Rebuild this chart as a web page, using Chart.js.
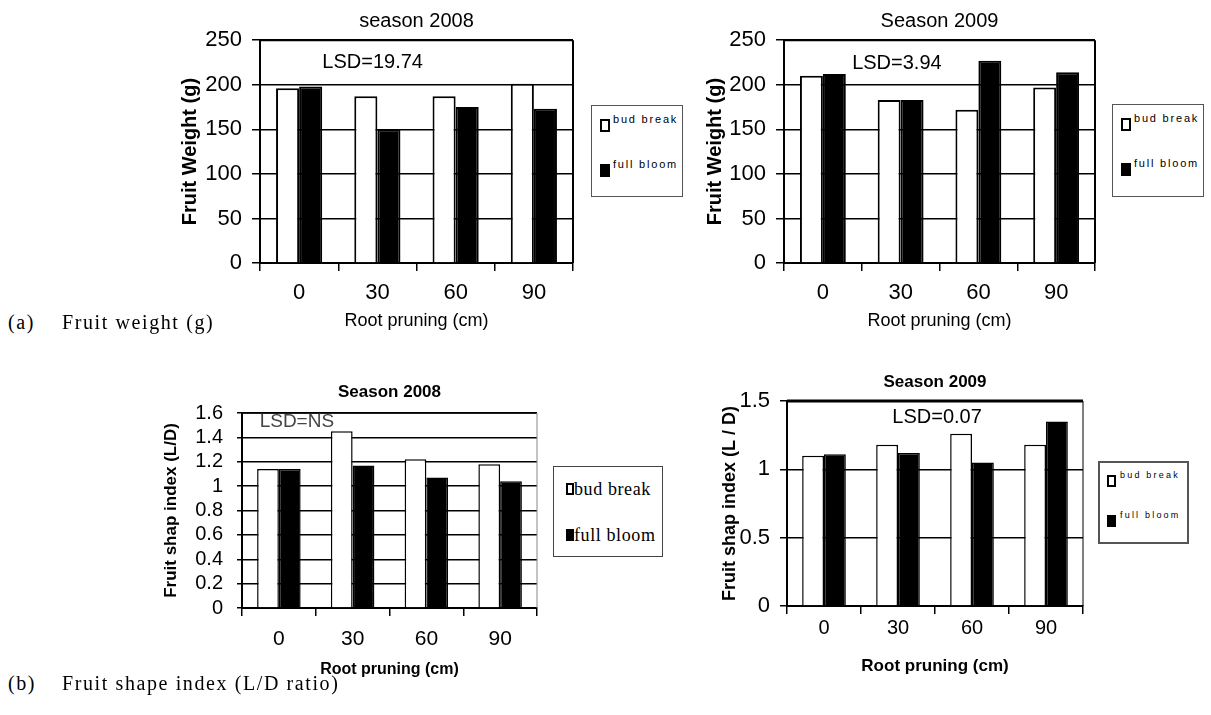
<!DOCTYPE html>
<html>
<head>
<meta charset="utf-8">
<script src="https://cdn.jsdelivr.net/npm/chart.js@4.4.1/dist/chart.umd.min.js"></script>
<style>
  body { margin: 0; background: #fff; width: 1211px; height: 715px; overflow: hidden; position: relative; }
  canvas, .legend, .caption { position: absolute; }
  .legend { box-sizing: border-box; background: #fff; }
  .legend .mark { position: absolute; box-sizing: border-box; }
  .legend .txt { position: absolute; white-space: nowrap; color: #000; }
  .caption { font-family: 'Liberation Serif', 'Times New Roman', serif; font-size: 20px; line-height: 20px; letter-spacing: 1.6px; white-space: nowrap; color: #000; }
</style>
</head>
<body>
<canvas id="w2008" width="404" height="336" style="left:174px;top:0px"></canvas>
<canvas id="w2009" width="401" height="336" style="left:699px;top:0px"></canvas>
<canvas id="s2008" width="385" height="311" style="left:157px;top:372px"></canvas>
<canvas id="s2009" width="373" height="321" style="left:715px;top:360px"></canvas>

<div class="caption" style="left:8px;top:312px">(a)</div>
<div class="caption" style="left:62px;top:312px">Fruit weight (g)</div>
<div class="caption" style="left:8px;top:673px">(b)</div>
<div class="caption" style="left:62px;top:673px">Fruit shape index (L/D ratio)</div>

<script>
'use strict';

// values
const rootPruning = ['0', '30', '60', '90'];
const seriesNames = ['bud break', 'full bloom'];

const weight2008Bud  = [196, 187, 187, 201];
const weight2008Full = [198, 150, 175, 173];
const weight2009Bud  = [210, 183, 172, 197];
const weight2009Full = [212, 183, 227, 214];

const shape2008Bud  = [1.14, 1.45, 1.22, 1.18];
const shape2008Full = [1.14, 1.17, 1.07, 1.04];
const shape2009Bud  = [1.10, 1.18, 1.26, 1.18];
const shape2009Full = [1.11, 1.12, 1.05, 1.35];

const weightTicks = [0, 50, 100, 150, 200, 250];
const shape2008Ticks = [0, 0.2, 0.4, 0.6, 0.8, 1, 1.2, 1.4, 1.6];
const shape2009Ticks = [0, 0.5, 1, 1.5];

const SANS = "'Liberation Sans', Arial, sans-serif";

Chart.defaults.color = '#000';
Chart.defaults.font.family = SANS;

// top + right edge of the plot box
const plotFrame = {
  id: 'plotFrame',
  afterDatasetsDraw(chart, args, opts) {
    const ctx = chart.ctx, a = chart.chartArea;
    ctx.save();
    ctx.strokeStyle = opts.topColor;
    ctx.lineWidth = opts.topWidth;
    ctx.beginPath(); ctx.moveTo(a.left, a.top); ctx.lineTo(a.right, a.top); ctx.stroke();
    ctx.strokeStyle = opts.rightColor;
    ctx.lineWidth = opts.rightWidth;
    ctx.beginPath(); ctx.moveTo(a.right, a.top); ctx.lineTo(a.right, a.bottom); ctx.stroke();
    ctx.restore();
  }
};

// LSD note inside the plot
const lsdNote = {
  id: 'lsdNote',
  afterDatasetsDraw(chart, args, opts) {
    const ctx = chart.ctx, a = chart.chartArea;
    const x = a.left + opts.xFrac * (a.right - a.left);
    const y = chart.scales.y.getPixelForValue(opts.yValue);
    ctx.save();
    ctx.font = opts.font;
    ctx.fillStyle = opts.color;
    ctx.textAlign = 'center';
    ctx.textBaseline = 'middle';
    ctx.fillText(opts.text, x, y);
    ctx.restore();
  }
};

function barChart(id, c) {
  return new Chart(document.getElementById(id), {
    type: 'bar',
    data: {
      labels: rootPruning,
      datasets: [{
        label: seriesNames[0],
        data: c.bud,
        backgroundColor: '#fff',
        borderColor: '#000',
        borderWidth: c.barBorder
      }, {
        label: seriesNames[1],
        data: c.full,
        backgroundColor: '#000',
        borderColor: '#000',
        borderWidth: c.barBorder
      }]
    },
    options: {
      responsive: false,
      animation: false,
      devicePixelRatio: 1,
      layout: { padding: { top: c.padTop, right: 5, bottom: 0, left: 0 } },
      datasets: { bar: { categoryPercentage: 0.59, barPercentage: 1 } },
      plugins: {
        legend: { display: false },
        tooltip: { enabled: false },
        title: {
          display: true,
          text: c.title,
          fullSize: false,
          font: c.titleFont,
          padding: { top: 0, bottom: c.titleGap }
        },
        plotFrame: c.frame,
        lsdNote: c.lsd
      },
      scales: {
        x: {
          grid: { display: true, drawOnChartArea: false, drawTicks: true, tickLength: 8, color: '#000', lineWidth: 1.5 },
          border: { display: true, color: '#000', width: 2 },
          ticks: { font: c.xTickFont, padding: c.xTickPad, maxRotation: 0 },
          title: { display: true, text: c.xTitle, font: c.xTitleFont, padding: { top: 4, bottom: 4 } },
          afterFit: s => { s.height = c.xHeight; }
        },
        y: {
          min: c.ticks[0],
          max: c.ticks[c.ticks.length - 1],
          grid: { color: '#000', lineWidth: c.gridWidth, tickLength: c.yTickLen },
          border: { display: true, color: '#000', width: 2 },
          ticks: { font: c.yTickFont, padding: c.yTickPad, autoSkip: false, callback: v => String(+v.toFixed(2)) },
          afterBuildTicks: s => { s.ticks = c.ticks.map(v => ({ value: v })); },
          title: { display: true, text: c.yTitle, font: c.yTitleFont, padding: { top: 4, bottom: 4 } },
          afterFit: s => { s.width = c.yWidth; }
        }
      }
    },
    plugins: [plotFrame, lsdNote]
  });
}

// legend box next to each chart, built from the chart's own datasets
function addLegend(chart, L) {
  const box = document.createElement('div');
  box.className = 'legend';
  Object.assign(box.style, {
    left: L.left + 'px', top: L.top + 'px', width: L.width + 'px', height: L.height + 'px',
    border: L.border
  });
  chart.data.datasets.forEach((ds, i) => {
    const m = document.createElement('div');
    m.className = 'mark';
    Object.assign(m.style, {
      left: L.markX + 'px', top: L.rows[i] + 'px', width: L.markW + 'px', height: L.markH + 'px',
      background: ds.backgroundColor, border: '2px solid ' + ds.borderColor
    });
    const t = document.createElement('div');
    t.className = 'txt';
    t.textContent = ds.label;
    Object.assign(t.style, {
      left: L.textX + 'px', top: (L.rows[i] + L.textDy) + 'px',
      font: L.font, lineHeight: L.lineH + 'px', letterSpacing: L.spacing + 'px'
    });
    box.appendChild(m);
    box.appendChild(t);
  });
  document.body.appendChild(box);
}

const topCharts = {
  padTop: 9.6, titleGap: 6.6,
  titleFont: { family: SANS, size: 20, weight: 'normal' },
  barBorder: 2, gridWidth: 1.5, ticks: weightTicks,
  xTickFont: { family: SANS, size: 22 }, xTickPad: 9,
  xTitle: 'Root pruning (cm)', xTitleFont: { family: SANS, size: 18, weight: 'normal' }, xHeight: 73,
  yTickFont: { family: SANS, size: 22 }, yTickPad: 10, yTickLen: 8,
  yTitle: 'Fruit Weight (g)', yTitleFont: { family: SANS, size: 20, weight: 'bold' },
  frame: { topColor: '#000', topWidth: 2, rightColor: '#000', rightWidth: 2 }
};

const w2008 = barChart('w2008', Object.assign({}, topCharts, {
  title: 'season 2008', bud: weight2008Bud, full: weight2008Full, yWidth: 86,
  lsd: { text: 'LSD=19.74', xFrac: 0.36, yValue: 225, font: '20px ' + SANS, color: '#000' }
}));

const w2009 = barChart('w2009', Object.assign({}, topCharts, {
  title: 'Season 2009', bud: weight2009Bud, full: weight2009Full, yWidth: 85,
  lsd: { text: 'LSD=3.94', xFrac: 0.363, yValue: 224, font: '20px ' + SANS, color: '#000' }
}));

const s2008 = barChart('s2008', {
  title: 'Season 2008', padTop: 9.8, titleGap: 10.8,
  titleFont: { family: SANS, size: 17, weight: 'bold' },
  bud: shape2008Bud, full: shape2008Full,
  barBorder: 1.5, gridWidth: 1.5, ticks: shape2008Ticks,
  xTickFont: { family: SANS, size: 21 }, xTickPad: 11,
  xTitle: 'Root pruning (cm)', xTitleFont: { family: SANS, size: 16, weight: 'bold' }, xHeight: 75,
  yTickFont: { family: SANS, size: 20 }, yTickPad: 14, yTickLen: 5,
  yTitle: 'Fruit shap index (L/D)', yTitleFont: { family: SANS, size: 17, weight: 'bold' }, yWidth: 85,
  frame: { topColor: '#000', topWidth: 1.5, rightColor: '#888', rightWidth: 1 },
  lsd: { text: 'LSD=NS', xFrac: 0.186, yValue: 1.526, font: '19px ' + SANS, color: '#444' }
});

const s2009 = barChart('s2009', {
  title: 'Season 2009', padTop: 11.8, titleGap: 8.8,
  titleFont: { family: SANS, size: 17, weight: 'bold' },
  bud: shape2009Bud, full: shape2009Full,
  barBorder: 1.5, gridWidth: 1.5, ticks: shape2009Ticks,
  xTickFont: { family: SANS, size: 20 }, xTickPad: 2,
  xTitle: 'Root pruning (cm)', xTitleFont: { family: SANS, size: 17, weight: 'bold' }, xHeight: 75,
  yTickFont: { family: SANS, size: 22 }, yTickPad: 10, yTickLen: 7,
  yTitle: 'Fruit shap index (L / D)', yTitleFont: { family: SANS, size: 18, weight: 'bold' }, yWidth: 72,
  frame: { topColor: '#000', topWidth: 3, rightColor: '#000', rightWidth: 1 },
  lsd: { text: 'LSD=0.07', xFrac: 0.507, yValue: 1.383, font: '20px ' + SANS, color: '#000' }
});

const smallLegend = {
  width: 92, height: 92, border: '1.5px solid #555',
  markX: 8, markW: 10, markH: 13, rows: [13, 58],
  textX: 21, textDy: -5, font: '11px ' + SANS, lineH: 11, spacing: 1.8
};
addLegend(w2008, Object.assign({}, smallLegend, { left: 591, top: 105 }));
addLegend(w2009, Object.assign({}, smallLegend, { left: 1112, top: 104, height: 93 }));
addLegend(s2008, {
  left: 553, top: 466, width: 110, height: 91, border: '1px solid #444',
  markX: 12, markW: 8, markH: 12, rows: [16, 62],
  textX: 20, textDy: -3, font: "18px 'Liberation Serif', 'Times New Roman', serif", lineH: 18, spacing: 0.6
});
addLegend(s2009, {
  left: 1098, top: 461, width: 91, height: 83, border: '2px solid #555',
  markX: 7, markW: 9, markH: 12, rows: [12, 52],
  textX: 20, textDy: -4, font: '9px ' + SANS, lineH: 9, spacing: 2.2
});
</script>
</body>
</html>
